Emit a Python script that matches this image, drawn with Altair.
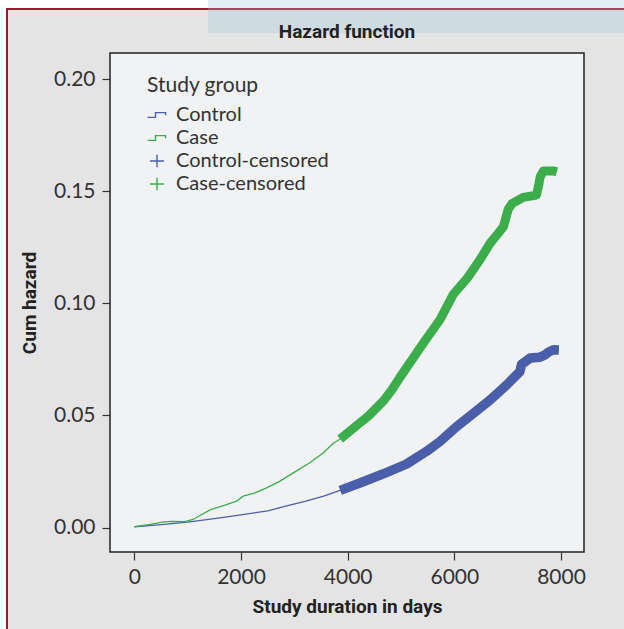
import altair as alt
import pandas as pd

# ---------------- data ----------------
control_days = [0, 500, 1000, 1500, 2000, 2500, 2800, 3200, 3550, 3860,
                4230, 4670, 5100, 5480, 5730, 6040, 6360, 6670, 6980, 7230,
                7260, 7420, 7606, 7700, 7760, 7856, 7960]
control_haz = [0.0003, 0.0013, 0.0024, 0.0040, 0.0057, 0.0074, 0.0093, 0.0117, 0.0140, 0.0166,
               0.0199, 0.0240, 0.0283, 0.0340, 0.0384, 0.0450, 0.0510, 0.0569, 0.0636, 0.0696,
               0.0728, 0.0756, 0.0760, 0.0770, 0.0782, 0.0793, 0.0792]

case_days = [0, 300, 550, 700, 950, 1100, 1230, 1420, 1670, 1920,
             2040, 2230, 2480, 2730, 2980, 3290, 3540, 3730, 3860, 4230,
             4400, 4670, 4830, 4980, 5420, 5730, 5980, 6250, 6480, 6670,
             6920, 7010, 7080, 7290, 7540, 7575, 7610, 7670, 7860, 7920]
case_haz = [0.0004, 0.0014, 0.0025, 0.0028, 0.0026, 0.0036, 0.0054, 0.0079, 0.0098, 0.0118,
            0.0140, 0.0152, 0.0177, 0.0207, 0.0244, 0.0289, 0.0333, 0.0376, 0.0395, 0.0467,
            0.0500, 0.0565, 0.0615, 0.0670, 0.0823, 0.0927, 0.1040, 0.1115, 0.1195, 0.1268,
            0.1342, 0.1420, 0.1445, 0.1473, 0.1483, 0.1520, 0.1565, 0.1591, 0.1591, 0.1587]

control_censor_start = 3860
case_censor_start = 3860

groups = ["Control", "Case", "Control-censored", "Case-censored"]
x_ticks = [0, 2000, 4000, 6000, 8000]
y_ticks = [0.0, 0.05, 0.10, 0.15, 0.20]
chart_title = "Hazard function"

# ---------------- styling ----------------
BLUE = "#4b5eaa"
GREEN = "#3bae4b"
TXT = "#333333"
TICKFONT = "Lato"
BOLDFONT = "Roboto"
W, H = 474, 499
LEFT, TOP, RIGHT, BOTTOM = 110, 53, 40, 77

x_scale = alt.Scale(domain=[-456, 8431], nice=False, zero=False)
y_scale = alt.Scale(domain=[-0.0109, 0.2117], nice=False, zero=False)

x_axis = alt.Axis(title="Study duration in days", values=x_ticks, format="d",
                  labelFont=TICKFONT, labelFontSize=21, labelColor=TXT,
                  tickSize=8, tickColor=TXT, tickWidth=1.2, labelPadding=6,
                  titleFont=BOLDFONT, titleFontSize=19, titleFontWeight="bold",
                  titleColor="#222", titlePadding=10, domain=False, grid=False)
y_axis = alt.Axis(title="Cum hazard", values=y_ticks, format=".2f",
                  labelFont=TICKFONT, labelFontSize=21, labelColor=TXT,
                  tickSize=8, tickColor=TXT, tickWidth=1.2, labelPadding=7,
                  titleFont=BOLDFONT, titleFontSize=19, titleFontWeight="bold",
                  titleColor="#222", titlePadding=14, domain=False, grid=False)

ctrl = pd.DataFrame({"days": control_days, "haz": control_haz})
case = pd.DataFrame({"days": case_days, "haz": case_haz})
ctrl_cens = ctrl[ctrl["days"] >= control_censor_start]
case_cens = case[case["days"] >= case_censor_start]


def curve(df, color, width):
    return alt.Chart(df).mark_line(color=color, strokeWidth=width,
                                   strokeJoin="round", strokeCap="butt").encode(
        x=alt.X("days:Q", scale=x_scale, axis=x_axis),
        y=alt.Y("haz:Q", scale=y_scale, axis=y_axis),
    )


# ---------------- page decorations (outside the plot area) ----------------
one = pd.DataFrame({"k": [0]})


def rect(x0, x1, y0, y1, color, opacity=1.0):
    # absolute page pixels -> pixels relative to plot origin
    return alt.Chart(one).mark_rect(color=color, opacity=opacity).encode(
        x=alt.value(x0 - LEFT), x2=alt.value(x1 - LEFT),
        y=alt.value(y0 - TOP), y2=alt.value(y1 - TOP))


deco = [
    rect(0, 624, 0, 8, "white"),
    rect(0, 6, 0, 629, "white"),
    rect(6, 624, 8, 10, "#9b1b2e"),
    rect(6, 8, 8, 629, "#9b1b2e"),
    rect(208, 624, 0, 33, "#9bc6df", 0.28),
]

title_layer = alt.Chart(pd.DataFrame({"t": [chart_title]})).mark_text(
    font=BOLDFONT, fontSize=19, fontWeight="bold", color="#222",
    align="center", baseline="middle").encode(
    x=alt.value(W / 2), y=alt.value(32 - TOP), text="t:N")

# ---------------- legend ----------------
step_path = "M-1.6,0.4H-0.25V-0.4H1.45V0.05"
plus_path = "M-1.2,0H1.2M0,-1.05V1.05"
legend = alt.Legend(title="Study group", orient="none", legendX=37, legendY=22,
                    titleFont=TICKFONT, titleFontSize=21, titleFontWeight="normal",
                    titleColor=TXT, titlePadding=9,
                    labelFont=TICKFONT, labelFontSize=20, labelColor=TXT,
                    labelOffset=9, symbolSize=140, symbolStrokeWidth=1.4,
                    symbolOpacity=1, rowPadding=3, padding=0)
leg_df = pd.DataFrame({"group": groups})
leg_layer = alt.Chart(leg_df).mark_point(filled=False, opacity=0, size=0).encode(
    x=alt.value(0), y=alt.value(0),
    color=alt.Color("group:N", scale=alt.Scale(domain=groups, range=[BLUE, GREEN, BLUE, GREEN]),
                    legend=legend),
    shape=alt.Shape("group:N", scale=alt.Scale(domain=groups,
                                               range=[step_path, step_path, plus_path, plus_path]),
                    legend=legend),
)

chart = alt.layer(
    *deco,
    title_layer,
    curve(ctrl, BLUE, 1.3),
    curve(case, GREEN, 1.3),
    curve(ctrl_cens, BLUE, 9.5),
    curve(case_cens, GREEN, 9),
    leg_layer,
).properties(
    width=W, height=H,
    padding={"left": LEFT, "top": TOP, "right": RIGHT, "bottom": BOTTOM},
    autosize=alt.AutoSizeParams(type="none"),
    background="#e4e4e4",
).configure_view(
    fill="#f1f2f4", stroke="#222222", strokeWidth=1.5
)

chart.save("out.html", embed_options={"renderer": "svg", "actions": False})
